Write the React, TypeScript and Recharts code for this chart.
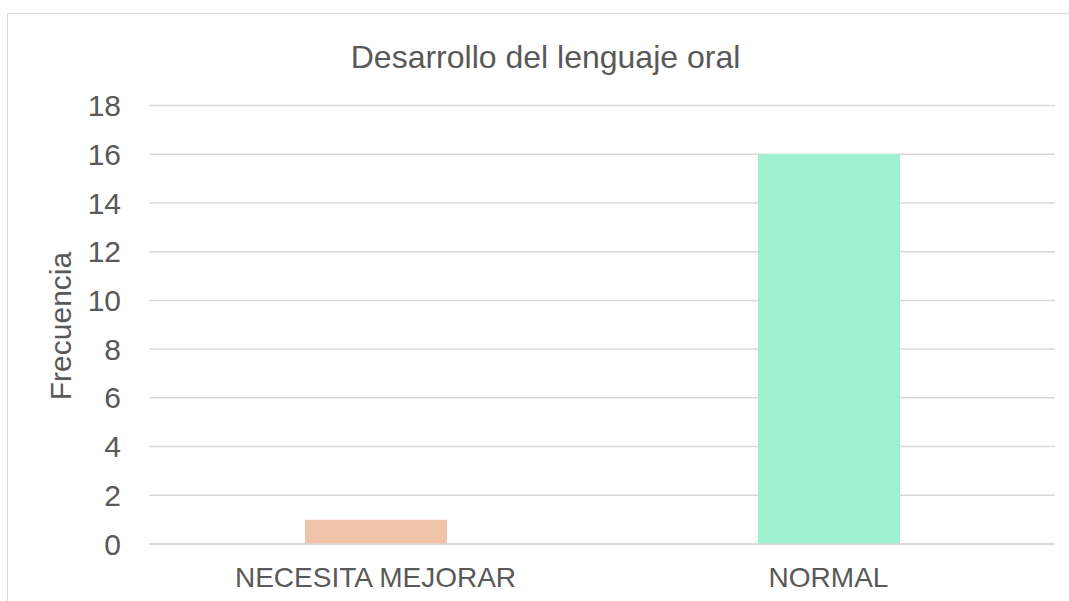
import React from 'react';
import { BarChart, Bar, XAxis, YAxis, CartesianGrid, Cell } from 'recharts';

const categories = ['NECESITA MEJORAR', 'NORMAL'];
const frecuencia = [1, 16];
const barColors = ['#F1C4A9', '#9DF0D0'];
const yTicks = [0, 2, 4, 6, 8, 10, 12, 14, 16, 18];
const title = 'Desarrollo del lenguaje oral';
const yLabel = 'Frecuencia';

const data = categories.map((c, i) => ({ name: c, value: frecuencia[i] }));

const FONT = '"Liberation Sans", Arial, sans-serif';
const TEXT = '#595959';

export default function App() {
  return (
    <div style={{ position: 'absolute', left: 0, top: 0, width: 1069, height: 601, overflow: 'hidden', background: '#fff' }}>
      <div
        style={{
          position: 'absolute',
          left: 7,
          top: 13,
          width: 1100,
          height: 640,
          border: '1.5px solid #d9d9d9',
          boxSizing: 'border-box',
        }}
      />
      <div style={{ position: 'absolute', left: 0, top: 0 }}>
        <BarChart
          width={1069}
          height={601}
          data={data}
          margin={{ top: 105.5, right: 14, left: 0, bottom: 0 }}
        >
          <CartesianGrid vertical={false} stroke="#d9d9d9" strokeWidth={1.5} />
          <XAxis
            dataKey="name"
            height={57}
            axisLine={{ stroke: '#d9d9d9', strokeWidth: 1.5 }}
            tickLine={false}
            tickSize={0}
            tickMargin={23}
            tick={{ fill: TEXT, fontSize: 28, fontFamily: FONT }}
            interval={0}
          />
          <YAxis
            width={149}
            domain={[0, 18]}
            ticks={yTicks}
            axisLine={false}
            tickLine={false}
            tickSize={0}
            tickMargin={28}
            tick={{ fill: TEXT, fontSize: 30, fontFamily: FONT }}
            interval={0}
          />
          <Bar dataKey="value" barSize={142} isAnimationActive={false}>
            {data.map((d, i) => (
              <Cell key={d.name} fill={barColors[i]} />
            ))}
          </Bar>
        </BarChart>
      </div>
      <svg style={{ position: 'absolute', left: 0, top: 0, pointerEvents: 'none' }} width={1069} height={601}>
        <text x={545.5} y={68} textAnchor="middle" fontSize={32} fontFamily={FONT} fill={TEXT}>
          {title}
        </text>
        <text
          x={71}
          y={326}
          textAnchor="middle"
          fontSize={30}
          fontFamily={FONT}
          fill={TEXT}
          transform="rotate(-90 71 326)"
        >
          {yLabel}
        </text>
      </svg>
    </div>
  );
}
